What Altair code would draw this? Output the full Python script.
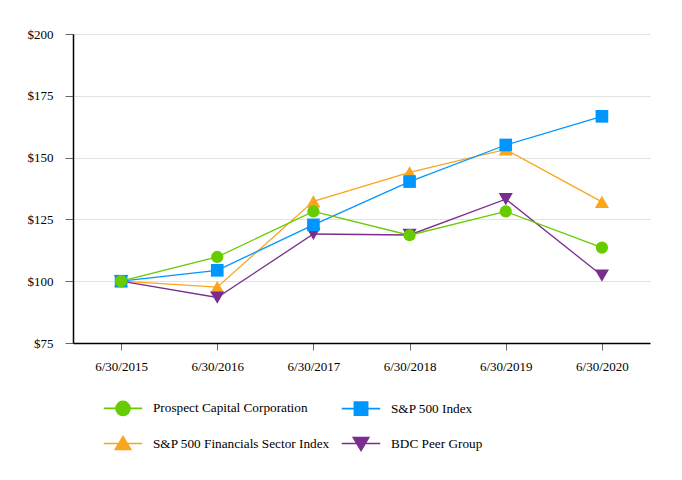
import altair as alt
import pandas as pd

dates = ["6/30/2015", "6/30/2016", "6/30/2017", "6/30/2018", "6/30/2019", "6/30/2020"]
series_names = ["Prospect Capital Corporation", "S&P 500 Index",
                "S&P 500 Financials Sector Index", "BDC Peer Group"]
prospect = [100, 109.8, 128.2, 118.6, 128.2, 113.6]
sp500 = [100, 104.4, 122.8, 140.3, 155.1, 166.7]
financials = [100, 97.6, 132.3, 144.0, 153.3, 132.1]
bdc = [100, 93.4, 119.1, 118.7, 133.2, 102.3]
colors = ["#66CC00", "#0096FF", "#F9A61C", "#7B2D8E"]
marker_shapes = ["circle", "square", "triangle-up", "triangle-down"]
y_ticks = [75, 100, 125, 150, 175, 200]

values = {series_names[0]: prospect, series_names[1]: sp500,
          series_names[2]: financials, series_names[3]: bdc}
rows = []
for s in series_names:
    for d, v in zip(dates, values[s]):
        rows.append({"date": d, "series": s, "value": v})
df = pd.DataFrame(rows)

FONT = "Liberation Serif"

x_enc = alt.X("date:O", sort=dates, scale=alt.Scale(type="point", padding=0.5),
              axis=alt.Axis(title=None, labelAngle=0, tickSize=7, labelPadding=10,
                            domainColor="black", domainWidth=1.5, tickColor="#666666",
                            labelFont=FONT, labelFontSize=13, labelColor="black",
                            grid=False))
y_enc = alt.Y("value:Q", scale=alt.Scale(domain=[75, 200], nice=False, zero=False),
              axis=alt.Axis(title=None, values=y_ticks, labelExpr="'$' + datum.value",
                            tickSize=8, labelPadding=12, domainColor="black",
                            domainWidth=1.5, tickColor="#666666", grid=True,
                            gridColor="#e2e2e2", gridWidth=1,
                            labelFont=FONT, labelFontSize=13, labelColor="black"))

base = alt.Chart(df)

# drawing order: Financials, BDC, S&P 500, Prospect (Prospect on top)
draw_idx = [2, 3, 1, 0]
marker_sizes = [150, 160, 200, 200]

line_layers = []
point_layers = []
for i in draw_idx:
    s = series_names[i]
    sub = base.transform_filter(alt.datum.series == s)
    line_layers.append(sub.mark_line(strokeWidth=1.3, color=colors[i]).encode(x=x_enc, y=y_enc))
    point_layers.append(sub.mark_point(filled=True, shape=marker_shapes[i],
                                       size=marker_sizes[i], color=colors[i],
                                       opacity=1).encode(x=x_enc, y=y_enc))

legend_paths = [
    "M-2.75,0L2.75,0M-1,0A1,1,0,1,0,1,0A1,1,0,1,0,-1,0Z",
    "M-2.75,0L2.75,0M-0.95,-0.95L0.95,-0.95L0.95,0.95L-0.95,0.95Z",
    "M-2.75,0L2.75,0M0,-1L1.1,0.85L-1.1,0.85Z",
    "M-2.75,0L2.75,0M0,1L1.1,-0.85L-1.1,-0.85Z",
]
# legend entries fill column by column: col 1 = Prospect, Financials; col 2 = S&P 500, BDC
legend_order = [0, 2, 1, 3]
leg_domain = [series_names[i] for i in legend_order]
leg_colors = [colors[i] for i in legend_order]
leg_paths = [legend_paths[i] for i in legend_order]

leg = alt.Legend(title=None, orient="none", legendX=42, legendY=366, columns=2,
                 symbolSize=196, symbolStrokeWidth=1.6, labelOffset=22,
                 columnPadding=8, rowPadding=13.5, labelFont=FONT, labelFontSize=13.25,
                 labelColor="black", symbolOpacity=1, labelLimit=400)

legend_layer = base.mark_point(filled=True, size=196, opacity=0).encode(
    x=x_enc, y=y_enc,
    fill=alt.Fill("series:N", scale=alt.Scale(domain=leg_domain, range=leg_colors), legend=leg),
    stroke=alt.Stroke("series:N", scale=alt.Scale(domain=leg_domain, range=leg_colors), legend=leg),
    shape=alt.Shape("series:N", scale=alt.Scale(domain=leg_domain, range=leg_paths), legend=leg),
)

chart = alt.layer(*line_layers, *point_layers, legend_layer).properties(
    width=577, height=309,
    autosize=alt.AutoSizeParams(type="none"),
    padding={"left": 65, "top": 26, "right": 24, "bottom": 115},
    background="white",
).configure_view(stroke=None)

chart.save("out.html", embed_options={"renderer": "svg", "actions": False})
